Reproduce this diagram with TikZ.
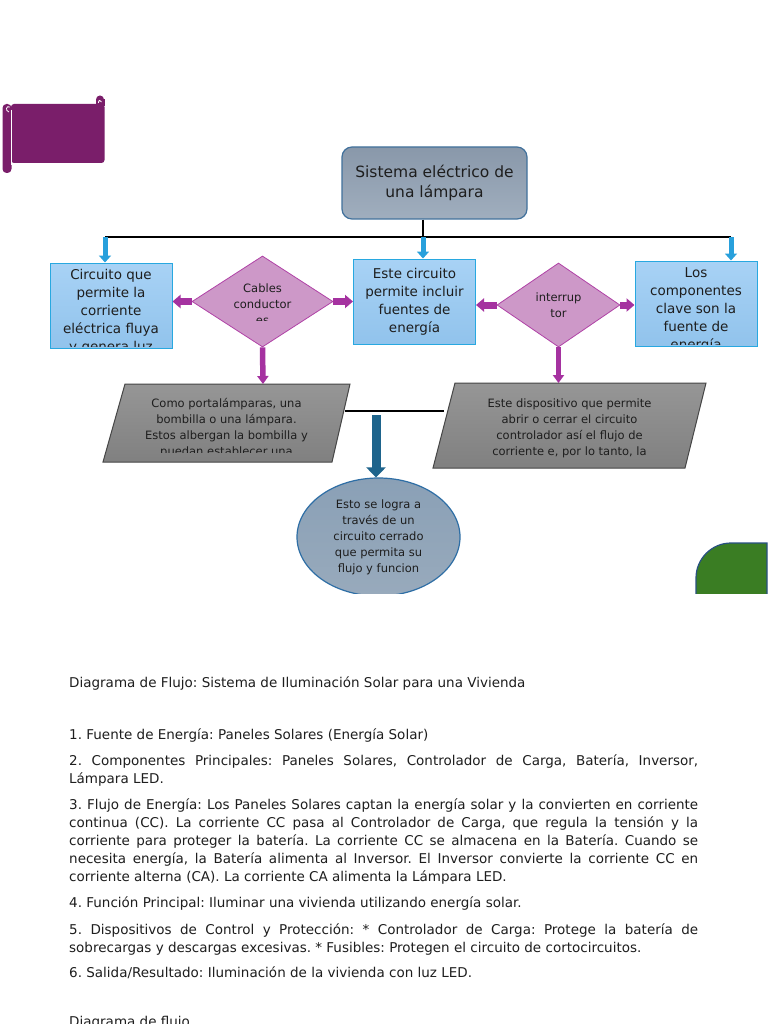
\documentclass[tikz,border=0pt]{standalone}
\usepackage{fontspec}
\setmainfont{DejaVu Sans}
\usetikzlibrary{arrows.meta,shapes.geometric}
\frenchspacing
\definecolor{lampcolor0001}{RGB}{122,30,106}
\definecolor{lampcolor0002}{RGB}{65,113,156}
\definecolor{lampcolor0003}{RGB}{137,152,170}
\definecolor{lampcolor0004}{RGB}{160,174,190}
\definecolor{lampcolor0005}{RGB}{40,168,224}
\definecolor{lampcolor0006}{RGB}{168,210,245}
\definecolor{lampcolor0007}{RGB}{145,195,236}
\definecolor{lampcolor0008}{RGB}{205,152,200}
\definecolor{lampcolor0009}{RGB}{176,66,166}
\definecolor{lampcolor0010}{RGB}{165,50,160}
\definecolor{lampcolor0011}{RGB}{40,160,220}
\definecolor{lampcolor0012}{RGB}{150,150,150}
\definecolor{lampcolor0013}{RGB}{128,128,128}
\definecolor{lampcolor0014}{RGB}{70,70,70}
\definecolor{lampcolor0015}{RGB}{30,100,140}
\definecolor{lampcolor0016}{RGB}{138,160,182}
\definecolor{lampcolor0017}{RGB}{46,110,165}
\definecolor{lampcolor0018}{RGB}{58,125,35}
\definecolor{lampcolor0019}{RGB}{40,80,130}
\definecolor{lampcolor0020}{RGB}{30,30,30}
\definecolor{lampcolor0021}{RGB}{152,170,188}

\begin{document}
\begin{tikzpicture}[yscale=-1
            ,rootbox/.style={draw=lampcolor0002,line width=1.2pt,rounded corners=10pt,top color=lampcolor0003,bottom color=lampcolor0004,minimum width=185pt,minimum height=72pt,inner sep=0pt,align=center,text=lampcolor0020,font=\fontsize{15.5}{20}\selectfont}
            ,infobox/.style={draw=lampcolor0005,line width=1pt,top color=lampcolor0006,bottom color=lampcolor0007,minimum width=122pt,minimum height=85pt,inner sep=0pt}
            ,decision/.style={diamond,draw=lampcolor0009,line width=0.8pt,fill=lampcolor0008,inner sep=0pt}
            ,databox/.style={draw=lampcolor0014,line width=1pt,top color=lampcolor0012,bottom color=lampcolor0013}
            ,endellipse/.style={ellipse,draw=lampcolor0017,line width=1.2pt,top color=lampcolor0016,bottom color=lampcolor0021,minimum width=163pt,minimum height=118pt,inner sep=0pt}
            ,boxtext/.style={align=center,inner sep=0pt,text=lampcolor0020,font=\fontsize{13.5}{18}\selectfont}
            ,smalltext/.style={align=center,inner sep=0pt,text=lampcolor0020,font=\fontsize{11.5}{16}\selectfont}
            ,bodytext/.style={anchor=north west,inner sep=0pt,text width=629pt,align=justify,text=lampcolor0020,font=\fontsize{13.5}{18}\selectfont\hyphenpenalty10000 \tolerance9999 }
            ,busline/.style={black,line width=1.6pt}
            ,bluearrow/.style={lampcolor0011,line width=5pt,-{Triangle[width=12pt,length=7pt]}}
            ,purplearrow/.style={lampcolor0010,line width=7pt,-{Triangle[width=13pt,length=8pt]}}
            ,purpledown/.style={lampcolor0010,line width=5.5pt,-{Triangle[width=11pt,length=8pt]}}
            ,darkarrow/.style={lampcolor0015,line width=9pt,-{Triangle[width=19pt,length=10pt]}}
        ]
        \fill[white] (0pt,0pt) rectangle (768pt,1024pt);
        \useasboundingbox (0pt,0pt) rectangle (768pt,1024pt);
        % scroll banner
        \fill[lampcolor0001,rounded corners=3pt] (11pt,104pt) rectangle (104.5pt,163pt);
        \fill[lampcolor0001] (100pt,99.5pt) circle (4pt);
        \fill[lampcolor0001] (96pt,99.5pt) rectangle (104.5pt,106pt);
        \draw[white,line width=0.8pt] (98.5pt,103pt) .. controls (98pt,100pt) and (101pt,99.5pt) .. (101.5pt,102pt);
        \fill[lampcolor0001,rounded corners=4pt] (2.5pt,104pt) rectangle (11.5pt,173pt);
        \draw[white,line width=0.7pt] (11.8pt,110pt) -- (11.8pt,165pt);
        \draw[white,line width=0.8pt] (10pt,107pt) .. controls (6pt,105pt) and (5pt,111pt) .. (9pt,112pt);
        % boxes
        \node[rootbox] (root) at (434.5pt,183pt) {Sistema eléctrico de\\una lámpara};
        \node[infobox] (leftbox) at (111pt,305.5pt) {};
        \node[infobox,boxtext] (midbox) at (414.5pt,301.5pt) {Este circuito\\permite incluir\\fuentes de\\energía};
        \node[infobox] (rightbox) at (696pt,303.5pt) {};
        \node[decision,minimum width=141pt,minimum height=91pt] (cables) at (262.5pt,301.5pt) {};
        \node[decision,minimum width=123pt,minimum height=84pt,smalltext] (switch) at (558.5pt,305pt) {interrup\\tor};
        \begin{scope}
            \clip (50pt,263pt) rectangle (172pt,346.5pt);
            \node[boxtext] (lefttext) at (111pt,312pt) {Circuito que\\permite la\\corriente\\eléctrica fluya\\y genera luz};
        \end{scope}
        \begin{scope}
            \clip (635pt,261pt) rectangle (757pt,344pt);
            \node[boxtext] (righttext) at (696pt,309.5pt) {Los\\componentes\\clave son la\\fuente de\\energía};
        \end{scope}
        \begin{scope}
            \clip (227pt,279pt) rectangle (298pt,320.5pt);
            \node[smalltext] (cabletext) at (262.5pt,304pt) {Cables\\conductor\\es};
        \end{scope}
        \draw[databox] (125pt,384pt) -- (350pt,384pt) -- (332pt,462pt) -- (103pt,462pt) -- cycle;
        \begin{scope}
            \clip (100pt,384pt) rectangle (352pt,452pt);
            \node[smalltext] (lamptext) at (226.5pt,428pt) {Como portalámparas, una\\bombilla o una lámpara.\\Estos albergan la bombilla y\\puedan establecer una};
        \end{scope}
        \draw[databox] (455pt,383pt) -- (706pt,383pt) -- (685pt,468pt) -- (433pt,468pt) -- cycle;
        \node[smalltext] (switchtext) at (569.5pt,428pt) {Este dispositivo que permite\\abrir o cerrar el circuito\\controlador así el flujo de\\corriente e, por lo tanto, la};
        \begin{scope}
            \clip (0pt,0pt) rectangle (768pt,593pt);
            \node[endellipse,smalltext] (goal) at (378.5pt,537pt) {Esto se logra a\\través de un\\circuito cerrado\\que permita su\\flujo y funcion};
            \draw[fill=lampcolor0018,draw=lampcolor0019,line width=1.2pt] (696pt,600pt) -- (696pt,578pt) .. controls (696pt,558.7pt) and (711.7pt,543pt) .. (731pt,543pt) -- (767pt,543pt) -- (767pt,600pt) -- cycle;
        \end{scope}
        % connectors
        \coordinate (busL) at (105pt,237pt);
        \coordinate (busM) at (423pt,237pt);
        \coordinate (busR) at (731pt,237pt);
        \coordinate (lamptop) at (263pt,384pt);
        \coordinate (switchtop) at (558.5pt,383pt);
        \coordinate (lampside) at (345pt,411pt);
        \coordinate (switchside) at (444pt,411pt);
        \coordinate (flowtop) at (376pt,415pt);
        \draw[busline] (busL) -- (busR);
        \draw[busline] (busM |- root.south) -- (busM);
        \draw[bluearrow] (busL) -- (busL |- leftbox.north);
        \draw[bluearrow] (busM) -- (busM |- midbox.north);
        \draw[bluearrow] (busR) -- (busR |- rightbox.north);
        \draw[purplearrow] (cables.west) -- (cables.west -| leftbox.east);
        \draw[purplearrow] (cables.east) -- (cables.east -| midbox.west);
        \draw[purplearrow] (switch.west) -- (switch.west -| midbox.east);
        \draw[purplearrow] (switch.east) -- (switch.east -| rightbox.west);
        \draw[purpledown] (cables.south) -- (lamptop);
        \draw[purpledown] (switch.south) -- (switchtop);
        \draw[busline] (lampside) -- (switchside);
        \draw[darkarrow] (flowtop) -- (flowtop |- goal.north);
        % text below the diagram
        \node[bodytext] (title) at (69pt,674.9pt) {\noindent\strut Diagrama de Flujo: Sistema de Iluminación Solar para una Vivienda};
        \node[bodytext] (item1) at (69pt,726.9pt) {\noindent\strut 1. Fuente de Energía: Paneles Solares (Energía Solar)};
        \node[bodytext] (item2) at (69pt,752.9pt) {\noindent\strut 2. Componentes Principales: Paneles Solares, Controlador de Carga, Batería, Inversor,\linebreak Lámpara LED.};
        \node[bodytext] (item3) at (69pt,796.9pt) {\noindent\strut 3. Flujo de Energía: Los Paneles Solares captan la energía solar y la convierten en corriente\linebreak continua (CC). La corriente CC pasa al Controlador de Carga, que regula la tensión y la\linebreak corriente para proteger la batería. La corriente CC se almacena en la Batería. Cuando se\linebreak necesita energía, la Batería alimenta al Inversor. El Inversor convierte la corriente CC en\linebreak corriente alterna (CA). La corriente CA alimenta la Lámpara LED.};
        \node[bodytext] (item4) at (69pt,894.9pt) {\noindent\strut 4. Función Principal: Iluminar una vivienda utilizando energía solar.};
        \node[bodytext] (item5) at (69pt,921.9pt) {\noindent\strut 5. Dispositivos de Control y Protección: * Controlador de Carga: Protege la batería de\linebreak sobrecargas y descargas excesivas. * Fusibles: Protegen el circuito de cortocircuitos.};
        \node[bodytext] (item6) at (69pt,964.9pt) {\noindent\strut 6. Salida/Resultado: Iluminación de la vivienda con luz LED.};
        \node[bodytext] (next) at (69pt,1013.9pt) {\noindent\strut Diagrama de flujo};
    \end{tikzpicture}
\end{document}
